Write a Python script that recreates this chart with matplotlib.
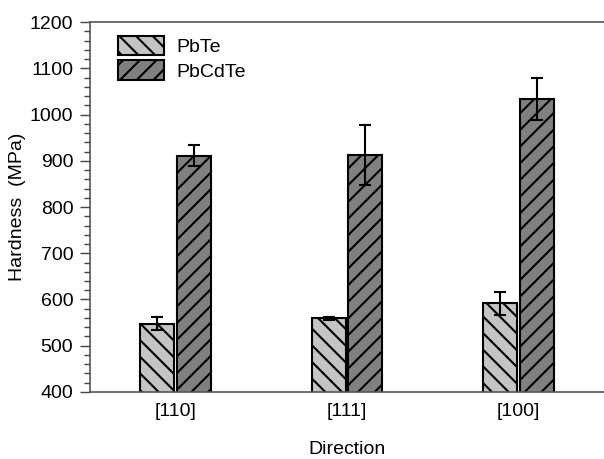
import numpy as np
import matplotlib.pyplot as plt
from matplotlib.ticker import MultipleLocator

plt.rcParams['font.family'] = ['Liberation Sans', 'DejaVu Sans']
plt.rcParams['hatch.linewidth'] = 1.5

directions = ["[110]", "[111]", "[100]"]
pbte = [548, 559, 592]
pbte_err = [14, 3, 25]
pbcdte = [911, 913, 1033]
pbcdte_err = [23, 65, 45]

x = np.arange(1, len(directions) + 1)
width = 0.2
off = 0.107

fig = plt.figure(figsize=(6.04, 4.59), dpi=100)
ax = fig.add_axes([0.149, 0.146, 0.851, 0.806])

ax.bar(x - off, pbte, width, color='#c4c4c4', edgecolor='black', linewidth=1.5,
       hatch='\\\\', label='PbTe', zorder=2)
ax.bar(x + off, pbcdte, width, color='#808080', edgecolor='black', linewidth=1.5,
       hatch='//', label='PbCdTe', zorder=2)
ax.errorbar(x - off, pbte, yerr=pbte_err, fmt='none', ecolor='black',
            elinewidth=1.5, capsize=4.5, capthick=1.5, zorder=3)
ax.errorbar(x + off, pbcdte, yerr=pbcdte_err, fmt='none', ecolor='black',
            elinewidth=1.5, capsize=4.5, capthick=1.5, zorder=3)

ax.set_xlim(0.5, 3.5)
ax.set_ylim(400, 1200)
ax.set_xticks(x)
ax.set_xticklabels(directions)
ax.yaxis.set_major_locator(MultipleLocator(100))
ax.yaxis.set_minor_locator(MultipleLocator(20))
ax.tick_params(axis='x', length=0, pad=8, labelsize=14)
ax.tick_params(axis='y', which='major', length=7, width=1, pad=5, labelsize=14, color='#444444')
ax.tick_params(axis='y', which='minor', length=4, width=1, color='#444444')

for side in ['left', 'bottom', 'top']:
    ax.spines[side].set_color('#555555')
    ax.spines[side].set_linewidth(1.2)
ax.spines['right'].set_visible(False)

ax.set_xlabel("Direction", fontsize=14, labelpad=15)
ax.set_ylabel("Hardness  (MPa)", fontsize=14, labelpad=3)

ax.legend(loc='upper left', bbox_to_anchor=(0.02, 1.01), frameon=False, fontsize=14,
          handlelength=2.4, handleheight=1.15, labelspacing=0.22, handletextpad=0.6)

fig.savefig("out.png", dpi=100)
